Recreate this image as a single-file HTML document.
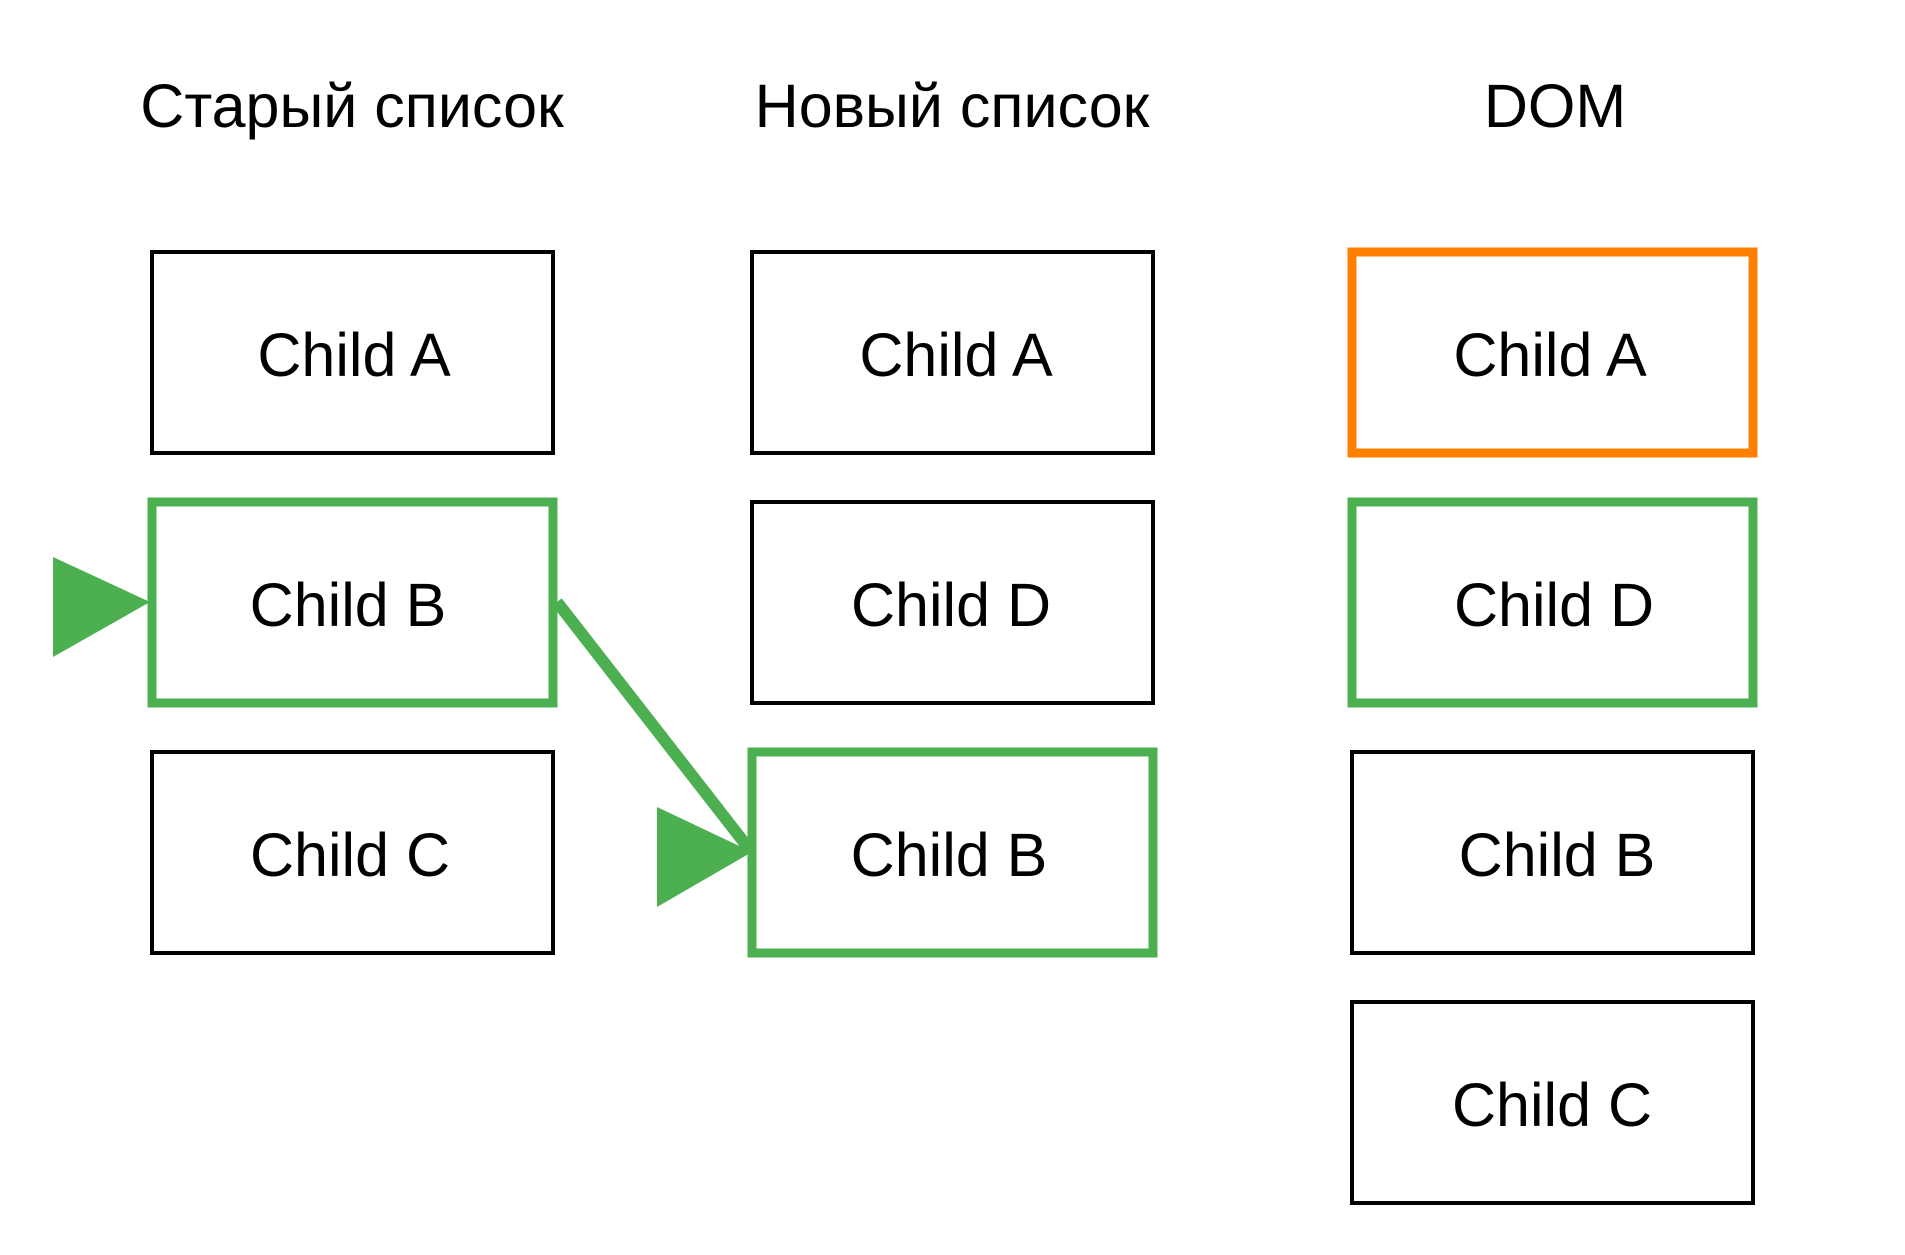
<!DOCTYPE html>
<html><head><meta charset="utf-8"><style>
html,body{margin:0;padding:0;background:#fff;}
svg{display:block;}
text{font-family:"Liberation Sans",Arial,sans-serif;font-size:61px;fill:#000;text-anchor:middle;}
</style></head><body>
<svg width="1905" height="1255" viewBox="0 0 1905 1255" xmlns="http://www.w3.org/2000/svg">
<text x="352" y="127" font-size="63">Старый список</text>
<text x="952" y="127" font-size="63">Новый список</text>
<text x="1555" y="127" font-size="63">DOM</text>

<g fill="none" stroke="#000" stroke-width="4">
<rect x="152" y="252" width="401" height="201"/>
<rect x="152" y="752" width="401" height="201"/>
<rect x="752" y="252" width="401" height="201"/>
<rect x="752" y="502" width="401" height="201"/>
<rect x="1352" y="752" width="401" height="201"/>
<rect x="1352" y="1002" width="401" height="201"/>
</g>
<g fill="none" stroke="#4caf50" stroke-width="9">
<rect x="152" y="502" width="401" height="201"/>
<rect x="752" y="752" width="401" height="201"/>
<rect x="1352" y="502" width="401" height="201"/>
<line x1="557" y1="602" x2="750" y2="850" stroke-width="12"/>
</g>
<rect x="1352" y="252" width="401" height="201" fill="none" stroke="#ff8000" stroke-width="9"/>
<polygon points="53,557 150,602 53,657" fill="#4caf50"/>
<polygon points="657,807 752,852 657,907" fill="#4caf50"/>

<text x="354" y="376">Child A</text>
<text x="348" y="626">Child B</text>
<text x="350" y="876">Child C</text>
<text x="956" y="376">Child A</text>
<text x="951" y="626">Child D</text>
<text x="949" y="876">Child B</text>
<text x="1550" y="376">Child A</text>
<text x="1554" y="626">Child D</text>
<text x="1557" y="876">Child B</text>
<text x="1552" y="1126">Child C</text>
</svg>
</body></html>
